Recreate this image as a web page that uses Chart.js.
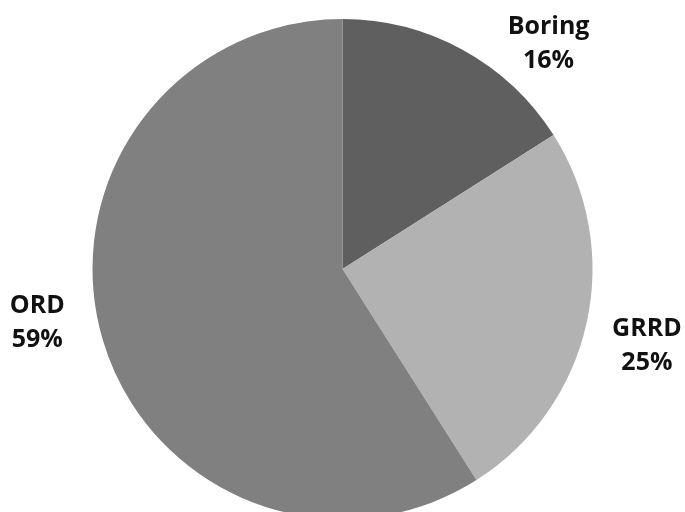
<!DOCTYPE html>
<html>
<head>
<meta charset="utf-8">
<script src="https://cdn.jsdelivr.net/npm/chart.js@4"></script>
<style>
    html, body { margin: 0; padding: 0; background: #fff; overflow: hidden; }
    #wrap { position: relative; width: 685px; height: 519px; }
</style>
</head>
<body>
<div id="wrap"><canvas id="pieChart"></canvas></div>
<script>
const categories = ['Boring', 'GRRD', 'ORD'];
const shares = [16, 25, 59];
const sliceColors = ['#5f5f5f', '#b2b2b2', '#808080'];

// Outside labels, placed around each slice's middle angle (Excel-like)
const outsideLabels = {
    id: 'outsideLabels',
    afterDatasetsDraw(chart, args, opts) {
        const ctx = chart.ctx;
        const meta = chart.getDatasetMeta(0);
        ctx.save();
        ctx.font = opts.font;
        ctx.fillStyle = opts.color;
        ctx.textAlign = 'center';
        ctx.textBaseline = 'middle';
        meta.data.forEach((arc, i) => {
            const p = arc.getProps(['x', 'y', 'startAngle', 'endAngle', 'outerRadius'], true);
            const place = opts.place[i];
            const mid = (p.startAngle + p.endAngle) / 2 + place.shift * Math.PI / 180;
            const r = p.outerRadius + place.gap;
            const cx = p.x + Math.cos(mid) * r;
            const cy = p.y + Math.sin(mid) * r;
            ctx.fillText(categories[i], cx, cy - opts.lineHeight / 2);
            ctx.fillText(shares[i] + '%', cx, cy + opts.lineHeight / 2);
        });
        ctx.restore();
    }
};

new Chart(document.getElementById('pieChart'), {
    type: 'pie',
    data: {
        labels: categories,
        datasets: [{
            data: shares,
            backgroundColor: sliceColors,
            borderWidth: 0
        }]
    },
    options: {
        responsive: true,
        maintainAspectRatio: false,
        animation: false,
        layout: { padding: { top: 19 } },
        plugins: {
            legend: { display: false },
            tooltip: { enabled: false },
            outsideLabels: {
                font: 'bold 25px "Open Sans", sans-serif',
                color: '#111',
                lineHeight: 34,
                place: [
                    { shift: 13.7, gap: 55 },
                    { shift: 1.6, gap: 64 },
                    { shift: 6.2, gap: 60 }
                ]
            }
        }
    },
    plugins: [outsideLabels]
});
</script>
</body>
</html>
